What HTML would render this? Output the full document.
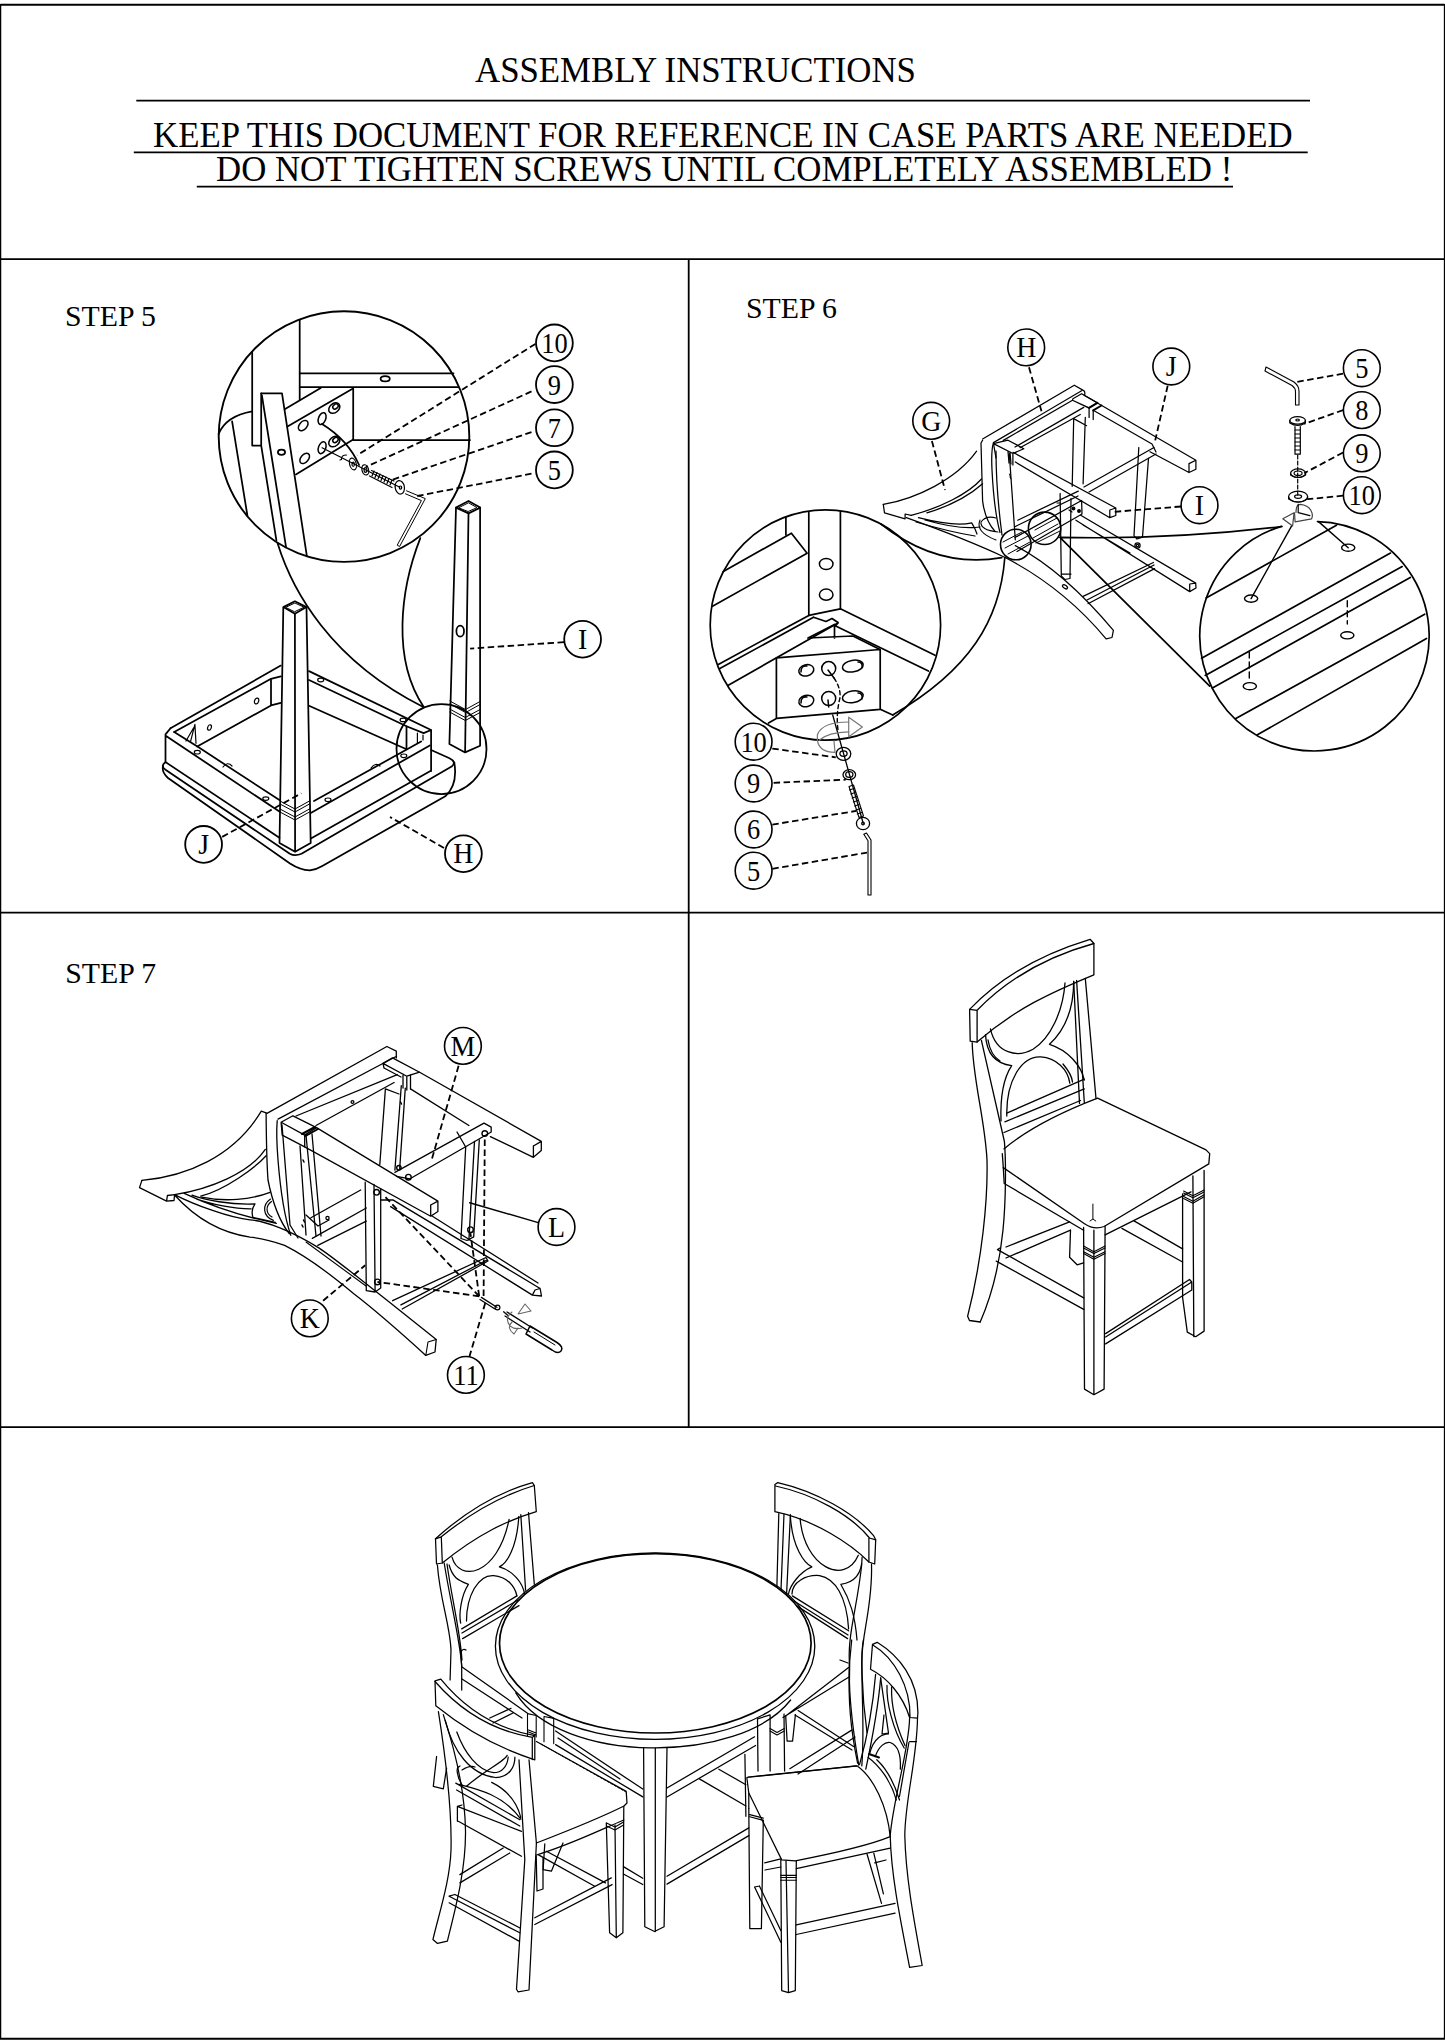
<!DOCTYPE html>
<html><head><meta charset="utf-8"><style>
html,body{margin:0;padding:0;background:#fff;width:1445px;height:2044px;overflow:hidden}
svg{position:absolute;left:0;top:0}
</style></head><body>
<svg width="1445" height="2044" viewBox="0 0 1445 2044" xmlns="http://www.w3.org/2000/svg">
<g id="frame" stroke="#000" fill="none">
<path d="M0.5 4.7H1444.5M0 2038.7H1445" stroke-width="2"/><path d="M0.6 4V2039M1444.5 4V2039" stroke-width="1.3"/>
<path d="M0 259.2H1445M0 912.6H1445M0 1427.1H1445M688.7 259V1427" stroke-width="1.8"/>
<path d="M136.3 100.7H1310M133.8 152.3H1307.7M196.8 186.6H1233" stroke-width="1.7"/>
</g>
<g font-family="Liberation Serif" fill="#000">
<text x="475" y="82" font-size="34.8">ASSEMBLY INSTRUCTIONS</text>
<text x="153" y="146.7" font-size="34.8">KEEP THIS DOCUMENT FOR REFERENCE IN CASE PARTS ARE NEEDED</text>
<text x="216" y="181.3" font-size="34.8">DO NOT TIGHTEN SCREWS UNTIL COMPLETELY ASSEMBLED !</text>
<text x="65" y="325.7" font-size="29.8">STEP 5</text>
<text x="746" y="317.8" font-size="29.8">STEP 6</text>
<text x="65.3" y="982.6" font-size="29.8">STEP 7</text>
</g>
<!--DRAWINGS-->
<g id="step5" stroke="#000" fill="none" stroke-width="1.75" stroke-linejoin="round" stroke-linecap="round">
<!-- magnifier big circle -->
<circle cx="344" cy="436.6" r="125.3" stroke-width="1.9"/>
<!-- cone lines -->
<path d="M277.5 543 C292 590 330 660 422.8 706.7"/>
<path d="M420.3 538.1 C400 590 392 660 423.6 706.7"/>
<circle cx="441.5" cy="749" r="45"/>
<!-- inside big circle -->
<path d="M218.6 434 Q226 416 252.2 411.4"/>
<path d="M232.1 421.4 L247.4 515.5"/>
<path d="M252.2 352.6 V445.6 H261"/>
<path d="M299.7 320.5 V399.7"/>
<path d="M299.7 373.3 H453.5 M299.7 387.2 H458.5"/>
<ellipse cx="385.2" cy="378.8" rx="4.6" ry="2.7"/>
<path d="M353.2 388.6 V440 H470"/>
<path d="M284.7 409.3 L320.7 387.9 M287.5 426.6 L353 388.6 M295.9 474.4 L353.2 439.5"/>
<!-- plank -->
<path d="M261.2 393.4 H282 L306.9 556.3"/>
<path d="M261.9 395.5 L286.1 547.3"/>
<path d="M261.2 393.4 V445.6 L276.4 540.4"/>
<ellipse cx="281.5" cy="452.2" rx="3.6" ry="2.6"/>
<!-- holes in block -->
<g stroke-width="1.5">
<ellipse cx="303.2" cy="425.6" rx="3.8" ry="6" transform="rotate(40 303.2 425.6)"/>
<ellipse cx="322.1" cy="418.6" rx="3.6" ry="6.2" transform="rotate(20 322.1 418.6)"/>
<ellipse cx="334.3" cy="408.1" rx="4.5" ry="6.2" transform="rotate(50 334.3 408.1)"/>
<ellipse cx="335.5" cy="406.5" rx="2.2" ry="3" transform="rotate(50 335.5 406.5)"/>
<ellipse cx="304.7" cy="458.4" rx="3.8" ry="6" transform="rotate(40 304.7 458.4)"/>
<ellipse cx="322.1" cy="447.7" rx="3.6" ry="6.2" transform="rotate(20 322.1 447.7)"/>
<ellipse cx="334.3" cy="441.6" rx="4.5" ry="6.2" transform="rotate(50 334.3 441.6)"/>
<ellipse cx="335.5" cy="440" rx="2.2" ry="3" transform="rotate(50 335.5 440)"/>
</g>
<path d="M322 424 Q348 440 359.1 465"/>
<path d="M322.1 447.7 L399.8 487.3" stroke-width="1.2"/>
<!-- hardware -->
<g stroke-width="1.2">
<path d="M346.5 455 Q341 455 341.5 459.5 L340 460"/>
<ellipse cx="352.9" cy="464" rx="3.3" ry="6" transform="rotate(-15 352.9 464)"/>
<ellipse cx="353.2" cy="464.3" rx="1.2" ry="2.2"/>
<ellipse cx="365.3" cy="469.9" rx="3.3" ry="5.2" transform="rotate(-15 365.3 469.9)"/>
<ellipse cx="365.5" cy="470" rx="1.4" ry="2.4"/>
<path d="M371.5 470.5 L394 481 M369.5 476 L392 487.5"/>
<path d="M374 471 l-2 5 M377 472.5 l-2 5 M380 474 l-2 5 M383 475.5 l-2 5 M386 477 l-2 5 M389 478.5 l-2 5 M392 480 l-2 5"/>
<ellipse cx="399.8" cy="487.3" rx="4.6" ry="6.8" transform="rotate(-10 399.8 487.3)"/>
<ellipse cx="400.5" cy="487.6" rx="1.2" ry="1.6"/>
<path d="M406.5 490.8 L425.3 498.6 L399.6 546.5 L397.2 545.2 L421.4 500.6 L405.5 493.8" stroke-width="1"/>
</g>
<!-- legs -->
<g>
<path d="M456 507.6 L468.5 500.9 L480.2 507.6 L468.5 513.4 Z"/>
<path d="M459 507.6 L468.5 502.8 L477 507.6 L468.5 511.4 Z" stroke-width="1"/>
<path d="M456 507.6 L449.4 744.1 L465.1 752.4 L480.1 745.8 V507.6 M468.5 513.4 L465.1 752.4"/>
<path d="M449.8 701 L465.5 709.5 L480.1 701.5 M449.9 704 L465.6 712.5 L480.1 704.5 M449.6 709 L465.3 717.5 L480.1 709.5 M449.6 712 L465.3 720.5 L480.1 712.5" stroke-width="1"/>
<ellipse cx="460.2" cy="631.2" rx="3.8" ry="5.5"/>
<path d="M283.3 607.1 L294.9 601.3 L306.5 607.1 L294.9 613.7 Z"/>
<path d="M286 607.2 L294.9 603 L304 607.2 L294.9 611.6 Z" stroke-width="1"/>
<path d="M283.3 607.9 L279.5 843 L295.1 851.8 L310.7 843 L306.5 607.9 M294.9 613.7 L295.1 851.8"/>
<path d="M280 801 L295 809 L309.5 801 M280 804 L295 812 L309.5 804 M280 809 L295 817 L309.5 809 M280 812 L295 820 L309.5 812" stroke-width="1"/>
</g>
<!-- table frame -->
<path d="M170.5 728.3 L280.8 665.6 M174.2 732 L271 678.8 L280.8 676.3 M197.2 746.6 L271 705.4 V678.8 M271 705.4 L280.8 702.9"/>
<path d="M170.5 728.3 L165.5 734.4 V762.1 L279.4 837.8 M166.1 736.1 L279.4 811.5 M198.2 747.1 L279.4 800 M174.2 732 L198.2 747.1"/>
<path d="M190.4 742.1 L194.9 724.4 L196 743.3 M186 741 L193.5 728" stroke-width="1.2"/>
<path d="M165.5 762.2 Q160 766 165.5 769.8 L289.8 853.7 Q295 856.5 301.5 853.7 L451.6 766.6 Q457 762 449.5 758.3 L431.1 750"/>
<path d="M163 766 Q161.5 772 168 778 L290 863.5 Q300 870 309.8 870.3 Q316 870 322.3 866.1 L445.3 796.3 Q458 785 454.3 762.4"/>
<path d="M309 671.1 L431.1 730 V771.1 M309 680 L406.5 726.2 L423.6 733.1 L431.1 730 M309 705.7 L406.5 749.3 V726.2"/>
<path d="M314 801 L421.1 741.5 M311.2 812.8 L429.8 745.5 M310.9 838.4 L430.4 771.1"/>
<path d="M417.4 733 V743 M423 735 V740" stroke-width="1.2"/>
<g stroke-width="1.2">
<ellipse cx="197.3" cy="752.2" rx="3" ry="1.8"/><ellipse cx="265.8" cy="798.6" rx="3" ry="1.8"/>
<ellipse cx="209.5" cy="727.5" rx="1.8" ry="2.8" transform="rotate(20 209.5 727.5)"/><ellipse cx="256.6" cy="701" rx="2" ry="3" transform="rotate(20 256.6 701)"/>
<path d="M223 767 Q227.5 761 232 766"/><ellipse cx="320.7" cy="680" rx="3" ry="1.8"/><ellipse cx="328" cy="799.8" rx="3" ry="1.8"/>
<ellipse cx="403.8" cy="755.8" rx="3" ry="1.8"/><path d="M371 768 Q375.5 762 380 766"/>
<ellipse cx="403.1" cy="719.9" rx="3" ry="1.8"/>
</g>
<!-- callouts -->
<g stroke-width="1.8">
<circle cx="554.4" cy="342.9" r="18.4"/><circle cx="554.4" cy="384.6" r="18.4"/><circle cx="554.4" cy="427.8" r="18.4"/><circle cx="554.4" cy="469.9" r="18.4"/>
<circle cx="582.6" cy="639.2" r="18.4"/><circle cx="203.6" cy="844.4" r="18.4"/><circle cx="463.4" cy="853.7" r="18.4"/>
</g>
<g stroke-dasharray="6.5 3.5" stroke-width="1.8" stroke-linecap="butt">
<path d="M535.4 343.9 L357.1 455.3 M531.5 391.4 L365.8 467 M531.5 432.1 L390.1 480.5 M531.5 473.7 L417.2 496"/>
<path d="M564 642.1 L470.1 648.6 M222.2 836.9 L301.3 793.3 M444 848 L390 817"/>
</g>
</g>
<g font-family="Liberation Serif" font-size="30" text-anchor="middle" fill="#000">
<text transform="translate(554.4 352.8) scale(0.88 1)">10</text><text transform="translate(554.4 394.5) scale(0.88 1)">9</text><text transform="translate(554.4 437.7) scale(0.88 1)">7</text><text transform="translate(554.4 479.8) scale(0.88 1)">5</text><text transform="translate(582.6 648.8) scale(0.93 1)">I</text><text transform="translate(203.6 854.4) scale(0.93 1)">J</text><text transform="translate(463.4 863.3) scale(0.93 1)">H</text>
</g>

<g id="step6" stroke="#000" fill="none" stroke-width="1.3" stroke-linejoin="round" stroke-linecap="round">
<!-- left magnifier -->
<g stroke-width="1.7">
<circle cx="825.4" cy="625" r="115.2"/>
<path d="M808.8 512.5 V615.4 M840.4 511.6 V608.8"/>
<path d="M785.9 517.5 V534.9"/>
<path d="M723.3 571.4 L791.4 533.2 L807.1 553.2 M712.5 606.3 L807.1 553.2"/>
<path d="M718.3 664.4 L808.8 615.4 M719.8 668.5 L813.5 617.3 M728.3 685.2 L837.9 622.9 M808.8 615.4 L840.4 608.8 L935 655.3 M836.2 626.2 L928.4 671.1"/>
<path d="M813.5 617.3 L826 621.5 L832 618.5 L838 622.5 L835.5 626"/>
<path d="M808 638 L834.5 624.5 M808 638 L853 636 L880 649.5 M834.5 626 V638"/>
<path d="M776.4 657.8 L880.2 649.5 V709.3 L776.4 718.4 Z M768.5 723 L776.4 718.4 M880.2 709.3 L892.7 715.1"/>
</g>
<g stroke-width="1.5">
<ellipse cx="826.2" cy="564" rx="6.8" ry="5.6"/><ellipse cx="826.2" cy="594.7" rx="6.8" ry="5.6"/>
<ellipse cx="806.3" cy="670.3" rx="7.6" ry="5.6" transform="rotate(-15 806.3 670.3)"/><path d="M801 672 Q801 665 807 666"/>
<circle cx="828.7" cy="668.6" r="7"/><path d="M828 670 L834 678"/>
<ellipse cx="852.8" cy="666.1" rx="10.5" ry="5.8" transform="rotate(-10 852.8 666.1)"/><path d="M858 662 Q863 662 862 668"/>
<ellipse cx="806.3" cy="701" rx="7.6" ry="5.6" transform="rotate(-15 806.3 701)"/><path d="M801 703 Q801 696 807 697"/>
<circle cx="828.7" cy="698.5" r="7"/><path d="M828 700 L828.7 707"/>
<ellipse cx="852.8" cy="696.8" rx="10.5" ry="5.8" transform="rotate(-10 852.8 696.8)"/><path d="M858 693 Q863 693 862 699"/>
</g>
<path d="M834 678 Q842 690 839.5 700 Q836 715 838 730" stroke-dasharray="4 3" stroke-width="1.4"/>
<path d="M832.7 715 L863.2 823.3" stroke-width="1.3"/>
<g stroke="#777" stroke-width="1.2">
<path d="M848.7 717.2 L862.4 727 L848.7 736.8 Z"/>
<path d="M848.7 722 Q822 722 817.4 734.8 V740.7 Q819.4 752.4 835 752.4 L834 741 M848.7 731.9 Q828 732.5 819.4 740"/>
</g>
<!-- hardware step6 left -->
<g stroke-width="1.3">
<ellipse cx="843.5" cy="753.8" rx="7.3" ry="6.5"/><ellipse cx="843.5" cy="753.6" rx="3.6" ry="2.8"/>
<ellipse cx="849.3" cy="774.7" rx="6.3" ry="5"/><ellipse cx="849.3" cy="774.5" rx="3.6" ry="2.9"/>
<path d="M849 786.5 L859 817.5 L863.5 816 L853.5 785 Z" stroke-width="1.1"/>
<path d="M849.5 790 l4.5 -1.5 M850.8 794 l4.5 -1.5 M852.1 798 l4.5 -1.5 M853.4 802 l4.5 -1.5 M854.7 806 l4.5 -1.5 M856 810 l4.5 -1.5 M857.3 814 l4.5 -1.5" stroke-width="1.1"/>
<ellipse cx="863" cy="823.5" rx="6.6" ry="6.2"/><circle cx="863" cy="823.5" r="1.3"/>
<path d="M863.8 834.3 L868 840.8 V895 H871 V840 L866.5 833 Z" stroke-width="1.1"/>
</g>
<!-- callouts step6 left -->
<g stroke-width="1.6">
<circle cx="753.6" cy="741.7" r="18.4"/><circle cx="753.6" cy="783.5" r="18.4"/><circle cx="753.6" cy="829.5" r="18.4"/><circle cx="753.6" cy="870.7" r="18.4"/>
<circle cx="931.2" cy="420.8" r="18.4"/><circle cx="1026.2" cy="347.4" r="18.4"/><circle cx="1171.3" cy="366.5" r="18.4"/><circle cx="1199.5" cy="505.2" r="18.4"/>
<circle cx="1361.8" cy="368.2" r="18.4"/><circle cx="1361.8" cy="410.1" r="18.4"/><circle cx="1361.8" cy="453.3" r="18.4"/><circle cx="1361.8" cy="495.2" r="18.4"/>
</g>
<g stroke-dasharray="6.5 3.5" stroke-width="1.8" stroke-linecap="butt">
<path d="M772.3 748.6 L835.8 757.3 M773.6 782.8 L845.8 779.7 M772.3 824.6 L856.4 810.9 M772.3 868.8 L867 852.6"/>
<path d="M931.9 440.9 L945 490 M1029 367.3 L1041.5 411.3 M1167.7 385.6 L1155.2 440.4 M1181 506.5 L1112 512"/>
<path d="M1343.1 373.7 L1293.8 382.4 M1343.1 410.1 L1304.2 423.9 M1343.1 452.5 L1304.2 473.2 M1343.1 495.7 L1307.6 499.2"/>
</g>
<!-- right magnifier -->
<g stroke-width="1.7">
<path d="M1317.5 521.6 A114.7 114.7 0 1 1 1281.5 526.4"/>
<path d="M1206.1 598.1 L1336.5 525.2 M1201.6 658.3 L1390.5 553.1 M1205.2 675.4 L1402.2 566.6 M1212.4 688 L1410.3 577.4 M1235.8 718.6 L1424.7 614.2 M1257.4 734.8 L1426.5 638.5"/>
<path d="M1291.5 526.1 L1251.1 598.6 M1318.5 521.6 L1348.2 547.7" stroke-width="1.4"/>
<path d="M1347.3 600.8 V624.1 M1249.3 652 V680" stroke-dasharray="6 4" stroke-width="1.4"/>
<path d="M1059.9 537.3 Q1170 540 1282 526.5 M1059.9 537.3 L1209.7 686.2"/>
</g>
<g stroke-width="1.4">
<ellipse cx="1251.1" cy="598.6" rx="6.6" ry="3.6"/><ellipse cx="1348.2" cy="547.7" rx="6.6" ry="3.6"/><ellipse cx="1347.3" cy="635.3" rx="6.6" ry="3.6"/><ellipse cx="1249.8" cy="686.2" rx="6.6" ry="3.6"/>
</g>
<!-- hardware step6 right -->
<g stroke-width="1.2">
<path d="M1266 367 L1294 382 Q1299 386 1299 391 V405 H1295.5 V391.5 Q1295.5 388 1292 385.5 L1265 371 Z" stroke-width="1.1"/>
<ellipse cx="1297.6" cy="420.4" rx="7.8" ry="3.8"/><path d="M1289.8 420.4 V423 Q1297.6 428 1305.4 423 V420.4"/><ellipse cx="1297.6" cy="420" rx="1.8" ry="1"/>
<path d="M1295 426.5 V454.2 H1300.3 V426.5"/>
<path d="M1295 430 h5.3 M1295 434 h5.3 M1295 438 h5.3 M1295 442 h5.3 M1295 446 h5.3 M1295 450 h5.3"/>
<path d="M1297.7 455 V495" stroke-dasharray="4 2"/>
<ellipse cx="1298.1" cy="473.2" rx="7.5" ry="4.3"/><ellipse cx="1298.1" cy="473.2" rx="4" ry="2.2"/><path d="M1290.6 473.2 V475 Q1298 480 1305.6 475 V473.2"/>
<ellipse cx="1298.1" cy="496.6" rx="9.5" ry="5.5"/><ellipse cx="1298.1" cy="496.6" rx="3.5" ry="1.8"/><path d="M1288.6 496.6 V499 Q1298 505 1307.6 499 V496.6"/>
</g>
<g stroke="#444" stroke-width="1.2">
<path d="M1282.8 518.8 L1294.1 512.7 L1292.6 526 Z"/>
<path d="M1296 512.5 Q1296 504.5 1300.2 504.4 C1311.6 505.5 1313.6 514.7 1311.6 518.8 L1295.1 521.9 L1294.5 513"/>
<path d="M1298.2 504.4 V512.7 L1309.9 515.7" stroke="#000"/>
</g>
<!-- chair upside down -->
<g stroke-width="1.25">
<!-- crest G -->
<path d="M883.3 504.4 C915 499 956 480 976.6 451.2"/>
<path d="M883.3 504.4 L884.5 512.9 L905.1 518.9 L905.1 514 L911.2 515.3"/>
<path d="M911.2 515.3 C940 508 968 494 981.5 479 M926.9 512.9 C950 506 970 495 982.6 483.8"/>
<path d="M906.3 517.7 Q966.9 539.5 1005.6 557.7 Q1063.8 588 1106.1 638.8 L1112 637.5 L1113.4 630.4 Q1063.8 571 1015.3 545.6"/>
<path d="M918.4 517.7 Q955 527 971.7 522.8 Q975 528 977 534 M916 522 Q950 532 975 536 M925 520 Q960 530 980 527"/>
<path d="M998 532 Q980 530 981 522 Q986 515 996 518 M996 540 Q975 532 980 520" stroke-width="1.1"/>
<!-- back stiles -->
<path d="M982.6 440.2 L981 443 L982.6 500.8 Q985 520 994.7 531 M993.5 442.6 Q991 450 992 470 Q994 510 1000 532.5 M996 451 Q996 490 1002 535 M1009.3 453.5 L1015.3 539.8"/>
<path d="M1009.5 474 l1 3 M1010 477 l1 2" stroke-width="1"/>
<!-- frame -->
<path d="M982.6 439 L1074.3 385.2 L1083.7 390.6 Q1085.5 392 1084.5 395.4 M993.5 442.6 L1081.6 390.8 M1003.3 440.4 L1072.5 400.3 M1015 447 L1083.7 407.4 M1020 447.7 L1080.3 414.5"/>
<path d="M993.5 443.6 L1008 440.2 L1023.8 448.7 L1012.9 453.5 Z M993.5 443.6 L996 458 M1012.9 453.5 V465 M1010 452 L1011 464 M1008 451.5 L1009 463"/>
<path d="M1072.5 400.3 L1072.9 398.7 L1081.6 393.7 L1097.4 402.8 L1089.1 407.8 Z M1072.5 400.3 L1089.1 408.2 V417.4 M1093.2 410.3 V419.5"/>
<path d="M1089.1 407.8 L1097.4 402.8 M1093.2 410.3 L1101.5 405.5" stroke-width="2"/>
<path d="M1084.1 395.2 L1195.9 460.3 V469.2 L1189 472.5 L1150 451.7 M1093.2 410.3 L1152 444 L1156 452 M1189 463.6 L1195.9 460.3 M1189 463.6 V472.5"/>
<path d="M1012.9 452.3 L1115.8 508 V515.5 L1109.8 517.7 L1015.3 462 M1109.8 510 L1115.8 508 M1109.8 510 V517.7"/>
<path d="M1084 487 L1154 447.5 M1089 492 L1156 454"/>
<!-- legs -->
<path d="M1073.7 418.6 L1072.2 486.3 M1085.3 417.4 L1083.1 483.8 M1073.7 418.6 L1086.6 425.7"/>
<path d="M1138.8 447.5 L1134 535.9 L1137 539 L1142.5 537.1 L1148.5 458.4"/>
<path d="M1060.1 493.5 L1061.3 575.9 L1064.8 579.5 L1070 578.5 L1071 498.4 M1061.3 574 H1071"/>
<!-- seat underside board -->
<path d="M1017.7 520.2 L1078.3 491.1 M1015.3 526.5 L1078 496 M1015 537.5 L1081.6 500.5 L1082 514 L1017 551.5"/>
<path d="M1057 503 l3 0 M1069 510 l3 2" stroke-width="1.2"/>
<circle cx="1073.5" cy="508.5" r="1.3" fill="#000"/><circle cx="1079" cy="511" r="1.3" fill="#000"/>
<!-- right back leg -->
<path d="M1080.7 515.3 L1195.7 583.1 L1196 588 L1189.7 591.6 L1075.9 520.2 M1083 525 L1130 553 M1189.7 584 L1195.7 583.1 M1189.7 584 V591.6"/>
<path d="M1083.1 596.4 L1153.4 562.5 M1088 603.7 L1154.6 568.6 M1087 600 L1154 565"/>
<ellipse cx="1065" cy="586.8" rx="2.8" ry="1.6" transform="rotate(35 1065 586.8)"/>
<circle cx="1137.5" cy="545.5" r="2.6"/><circle cx="1137.5" cy="545.5" r="1.2"/>
</g>
<!-- small magnifier circles and cone -->
<g stroke-width="1.6">
<circle cx="1015.8" cy="544.5" r="15.3"/>
<circle cx="1044.6" cy="528.3" r="16.2"/>
<path d="M881 524 C920 555 960 565 1001.8 557.6"/>
<path d="M1004.8 557.6 C1000 620 970 670 892.7 715"/>

</g>
<path d="M1005 548 L1028 536 M1008 554 L1030 542 M1003 542 L1022 532 M1035 530 L1057 518 M1033 538 L1058 524 M1036 543 L1060 531" stroke-width="1"/>
</g>
<g font-family="Liberation Serif" font-size="30" text-anchor="middle" fill="#000">
<text transform="translate(753.6 751.6) scale(0.88 1)">10</text><text transform="translate(753.6 793.4) scale(0.88 1)">9</text><text transform="translate(753.6 839.4) scale(0.88 1)">6</text><text transform="translate(753.6 880.6) scale(0.88 1)">5</text><text transform="translate(931.2 430.7) scale(0.93 1)">G</text><text transform="translate(1026.2 357.3) scale(0.93 1)">H</text><text transform="translate(1171.3 376.4) scale(0.93 1)">J</text><text transform="translate(1199.5 515.1) scale(0.93 1)">I</text><text transform="translate(1361.8 378.1) scale(0.88 1)">5</text><text transform="translate(1361.8 420.0) scale(0.88 1)">8</text><text transform="translate(1361.8 463.2) scale(0.88 1)">9</text><text transform="translate(1361.8 505.1) scale(0.88 1)">10</text>
</g>

<g id="step7" stroke="#000" fill="none" stroke-width="1.3" stroke-linejoin="round" stroke-linecap="round">
<!-- crest -->
<path d="M141.9 1180.4 C185.7 1176.4 233.5 1157.3 261.3 1111.2 L266.1 1112.8"/>
<path d="M141.9 1180.4 L139.5 1187.6 L166.6 1201.1 L167.4 1195.5 L174.6 1194.7 M166.6 1201.1 L174 1200.5 L174.6 1194.7"/>
<path d="M174.6 1194.7 C209.6 1189.2 249.4 1173.2 265.3 1149.4 M200.7 1196.2 C225 1190 255 1168 266.1 1155.7"/>
<path d="M175 1194.8 C195 1205 230 1218 250 1219.8 C265 1221 290 1230 319.2 1248.1 C340 1262 370 1287 436.2 1339.5 L435 1352 L425.8 1355.4 C400 1332 375 1310 353.8 1293.8 C335 1278 310 1258 284.6 1245.4 C270 1240 260 1238 250 1237.1 C215 1232 190 1212 175 1195.5"/>
<path d="M306 1242 L366 1286 M425.8 1355.4 L428 1342 L436.2 1339.5" stroke-width="1.1"/>
<path d="M184.2 1193.3 C205 1203 235 1215 276.3 1223.3 M192 1195.2 C205 1200 230 1205 255 1203.9 C252 1208 251.5 1213 253 1217.5 L275.3 1222.3 M196.8 1199.1 C210 1204 235 1209 251.1 1208.8"/>
<path d="M270 1192.3 C250 1200 225 1202 201.6 1197.1"/>
<path d="M270.5 1199.1 C262 1205 262.5 1216 273.4 1220.4 M271.5 1201.5 C265 1206 266 1214 272 1217" stroke-width="1.2"/>
<!-- back stile -->
<path d="M266.1 1112.8 Q266.5 1160 268 1180 Q275 1215 289.2 1233.7 M277.2 1120.7 Q276 1135 278 1160 Q282 1210 290.8 1235.3 M282 1125 L290 1225 L298 1238 M300 1146 L306 1235 M305.9 1134.3 L316 1236 M312 1134 L321 1236"/>
<path d="M303 1160 l1 2 M303.5 1220 l1 2" stroke-width="1.5"/>
<!-- frame H rail -->
<path d="M267 1113.4 L386.9 1046.5 L396.3 1051.1 V1057.9 M278 1119.1 L396.5 1056.3 M296 1116 L397.3 1074.6 M316 1125.5 L394.1 1082.5"/>
<circle cx="352.5" cy="1102" r="1.4"/>
<path d="M281.1 1122.3 L292.9 1115.8 L316.5 1127.6 L304.7 1135.1 Z M281.1 1122.3 L282.2 1135.1 L304.7 1146.9 V1135.1"/><path d="M302 1134 L315 1127 M305.5 1136 L318 1129" stroke-width="2"/>
<!-- corner block right -->
<path d="M383 1063.4 L392.5 1057.9 L419.6 1072.2 L406.8 1076.2 Z M383 1063.4 L384 1068 L401 1077 M406.8 1076.2 V1090 M410.5 1075 V1089 M403 1074 V1088"/>
<!-- J rail -->
<path d="M419.6 1072.2 L541.3 1141.4 V1150.5 L533.4 1157.3 L490.4 1136.6 M410.5 1088.9 L468.9 1125.5 M533.4 1146 L541.3 1141.4 M533.4 1146 V1157.3"/>
<!-- legs near J -->
<path d="M385.4 1088.9 L379.8 1164.5 M401.3 1085.7 L394.9 1170.1 M405.3 1088.1 L399.7 1168.5 M385.4 1088.9 L399 1094"/>
<path d="M400.5 1102 l1 2" stroke-width="1.5"/>
<!-- M side rail -->
<path d="M394.9 1172.4 L484 1123.1 L491.2 1127.1 V1132 L410 1178.8 M396.5 1176.4 L410 1178.8"/>
<!-- leg L -->
<path d="M465.7 1147 L461 1238.5 L467 1240.5 L473.7 1236.9 L479.3 1139.8 M474.5 1141.4 L468.9 1240.1 M457 1132 L465.7 1147"/>
<!-- front rail I -->
<path d="M316.5 1127.6 L437.9 1201.1 V1211.5 L430.7 1216.2 L304.7 1146.9 M430.7 1205 L437.9 1201.1 M430.7 1205 V1216.2"/>
<!-- center leg K -->
<path d="M365.2 1182.2 L366.3 1290.7 L375.1 1292 L380.7 1288 V1188.9 M374 1184.4 L375.1 1290.7"/>
<!-- seat underside board -->
<path d="M310.9 1217.7 L360.7 1190 M312.3 1238.4 L366.3 1208 M317.8 1245.4 L366.3 1221.1 M306 1215 L318 1226 L329 1220"/>
<circle cx="327.5" cy="1218" r="1.6"/><path d="M302 1225 l1 2" stroke-width="1.5"/>
<!-- right back leg -->
<path d="M380.6 1200 L392.9 1199.9 L540.1 1288.5 L541.5 1296 L532.4 1295.1 L390.6 1206.6 M432 1216 L538 1283 M532.4 1295.1 L535 1290 L540.1 1288.5"/>
<!-- cross stretcher -->
<path d="M392.6 1300.7 L486 1257.5 L488 1261 L402.2 1309 M400.9 1304.9 L487 1260"/>
<!-- screw holes -->
<g stroke-width="1.4">
<circle cx="484.8" cy="1133.5" r="2.8"/><circle cx="408.4" cy="1177.2" r="2.8"/><circle cx="398.9" cy="1167.7" r="2.2"/><circle cx="376.6" cy="1192.3" r="2.8"/><circle cx="470.5" cy="1229.7" r="2.8"/><circle cx="377.4" cy="1281.9" r="2.8"/>
</g>
<!-- dashed -->
<g stroke-dasharray="6.5 3.5" stroke-width="1.8" stroke-linecap="butt">
<path d="M479.2 1296.3 L377.4 1281.9 M479.2 1296.3 L384 1195.5 M479.2 1296.3 L470.4 1233.1 M483.6 1296 L484.8 1135"/>
<path d="M458.6 1065.8 L431.5 1160.5 M323.1 1300.7 L365.2 1265.3 M469.3 1357.1 L485.9 1300.7"/>
</g>
<path d="M469.7 1202.7 L538.2 1222.6" stroke-width="1.5"/>
<!-- screw + screwdriver -->
<path d="M481.4 1297.4 L496.9 1307.3 M480 1299.5 L495 1309" stroke-width="1.3"/>
<circle cx="497.5" cy="1307.5" r="2.4" stroke-width="1.2"/>
<path d="M503.6 1311.8 L508 1315.5 M507 1312 L532.4 1328 M505 1316 L530 1332" stroke-width="1.3"/>
<path d="M530 1326 L557 1342.5 Q564 1347 561 1351 Q558 1354.5 552 1350 L526 1334 Z" stroke-width="1.5"/>
<path d="M534 1332 L555 1345" stroke-width="1"/>
<g stroke="#666" stroke-width="1.1">
<path d="M512 1312 Q504 1318 510 1326 Q515 1330 522 1328 M512 1322 Q506 1328 514 1334 L518 1328"/>
<path d="M525 1304 L531 1311 L518 1314 Z"/>
</g>
<!-- callouts -->
<g stroke-width="1.6">
<circle cx="462.9" cy="1045.9" r="18.4"/><circle cx="556.5" cy="1227" r="18.4"/><circle cx="309.8" cy="1318.4" r="18.4"/><circle cx="465.9" cy="1374.9" r="18.4"/>
</g>
</g>
<g font-family="Liberation Serif" font-size="30" text-anchor="middle" fill="#000">
<text transform="translate(462.9 1055.8) scale(0.93 1)">M</text><text transform="translate(556.5 1236.9) scale(0.93 1)">L</text><text transform="translate(309.8 1328.3) scale(0.93 1)">K</text><text transform="translate(465.9 1384.8) scale(0.88 1)">11</text>
</g>

<g id="chairR" stroke="#000" fill="none" stroke-width="1.3" stroke-linejoin="round" stroke-linecap="round">
<path d="M969.6 1009.4 C1006.1 971.1 1052.8 950.6 1090.1 939.3 L1093.9 943.5 V974.8 C1052.8 991.7 1015.4 1008.5 977.1 1042.1 L970.2 1041.2 Z"/>
<path d="M977.1 1010.3 C1011.7 974.8 1054.6 954.3 1093.9 943.5 M969.6 1009.4 L977.1 1010.3 V1042.1"/>
<path d="M972.2 1042.7 C973 1080 985 1120 987 1160 C988 1200 982 1260 967.6 1316.3 L969.5 1320.5 L980.2 1322"/>
<path d="M981.4 1040.4 L1004.4 1141.5 C1006 1160 1006 1200 1003 1230 C1000 1260 992 1295 980.2 1322"/>
<path d="M1073.7 981.3 L1079.5 1103.4 M1076.6 980.4 L1084.3 1102.4 M1085.3 978.4 L1096 1098.6"/>
<path d="M990.4 1028.8 C996.2 1054 1017.5 1057.9 1033 1049.2 C1050.4 1038.5 1063 1011.4 1065 983"/>
<path d="M1073.7 981.3 C1073.7 1011.4 1064 1030.8 1049.5 1044.3 C1067.9 1050.1 1081.4 1065.6 1084.3 1080.2"/>
<path d="M985.5 1034.6 C986.5 1054 996.2 1063.7 1011.7 1065.6 C1003.9 1077.3 1000.1 1094.7 1001 1120.9"/>
<path d="M1006.8 1116 C1005.9 1081.1 1021.4 1055.9 1040.8 1056.9 C1056.3 1057.9 1067.9 1069.5 1069.8 1083.1"/>
<path d="M1063 1064 C1068 1070 1072 1076 1072.5 1082"/>
<path d="M988 1040 C990 1052 995 1058 1000 1061"/>
<path d="M1006.8 1113.1 L1084.3 1079.2 M1004.9 1121.8 L1084.3 1088.9 M1004 1132.5 L1080.5 1100.5"/>
<path d="M1003.9 1148.9 C1027.2 1129.6 1056.3 1114.1 1097.6 1098.2 L1206 1149.9 L1209.7 1153.6 L1208.8 1163.9 L1104.1 1226.5 Q1093.9 1230.2 1084.5 1223.7 L1003.3 1167.6 L1002.3 1153.6"/>
<path d="M1003.3 1167.6 L1004.2 1183.5 L1083.6 1230.2 M1105.1 1234.9 L1191 1191.9"/>
<path d="M1083.6 1227.4 L1084.5 1389.1 L1093.9 1394.7 L1104.1 1389.1 L1105.1 1226.5 M1093.9 1230.2 V1394.7"/>
<path d="M1083.6 1246.1 L1093.9 1251.7 L1105.1 1246.1 M1083.6 1248 L1093.9 1253.6 L1105.1 1248 M1083.6 1251.7 L1093.9 1257.3 L1105.1 1251.7 M1083.6 1253.6 L1093.9 1259.2 L1105.1 1253.6" stroke-width="1.1"/>
<path d="M1182.6 1193.8 V1297.5 L1187.3 1332.1 L1195.7 1336.7 L1204.1 1331.1 V1170.4 M1192.9 1176 L1193.8 1336.7"/>
<path d="M1183.6 1191 L1192.9 1195.7 L1204.1 1190.1 M1183.6 1193 L1192.9 1197.7 L1204.1 1192 M1183.6 1196.6 L1192.9 1201.3 L1204.1 1194.7 M1183.6 1198.5 L1192.9 1203.2 L1204.1 1196.7" stroke-width="1.1"/>

<path d="M1070.5 1230.2 L1069.6 1257.3 L1077.1 1264.8 L1083.6 1262.9"/>
<path d="M997.5 1249.6 L1083.7 1297.9 M996.3 1261.1 L1083.7 1309.4 M997.5 1249.6 L1000 1248"/>
<path d="M1006 1247 L1069.6 1221.8 M1006 1258 L1070.5 1230.2"/>
<path d="M1121.9 1228.4 L1182.6 1262 M1134 1220.9 L1182.6 1248.9"/>
<path d="M1105.6 1333.6 L1189.5 1279.5 L1191.8 1282 V1290 L1105.6 1343.9 M1105.6 1337 L1191.8 1282"/>
<path d="M1092.9 1204.1 V1219 M1090 1221 L1092.9 1219 L1095.8 1221" stroke-width="1"/>
</g>

<g id="diningset" stroke="#000" fill="none" stroke-width="1.25" stroke-linejoin="round" stroke-linecap="round">
<!-- back-left chair -->
<path d="M435.5 1538.8 C468.4 1508.8 501.4 1491.3 532.4 1482.6 L534.3 1485.5 L536.3 1511.7 C507.2 1520.4 478.1 1533.9 442.3 1563 L436.5 1564 Z"/>
<path d="M441.3 1536.8 C472.3 1511.7 505.3 1494.2 534.3 1485.5 M435.5 1538.8 L441.3 1536.8 L442.3 1563"/>
<path d="M437.4 1565 C440 1600 450 1625 451 1650 L450.1 1680 M444.2 1563 C450 1600 460 1640 461.7 1665.7 L461.7 1690 M447 1564 C452 1600 460 1630 462 1660"/>
<path d="M520.8 1514.6 L525.6 1590.1 M528.5 1512.6 L534.3 1584.3"/>
<path d="M452 1557.2 C458.8 1582.4 497.5 1576.6 509.1 1519.4 M518.8 1516.5 C516.9 1547.5 507.2 1563 499.4 1566.9 C513 1570.8 522.7 1582.4 524.6 1594"/>
<path d="M449.1 1565 C452.9 1578.5 458.8 1580.4 468.4 1584.3 C460.7 1595.9 458.8 1615.3 460.7 1623.1"/>
<path d="M466.5 1621.1 C466.5 1595.9 478.1 1574.6 493.6 1575.6 C507.2 1576.6 514.9 1586.3 516.9 1595.9"/>
<path d="M461.7 1628.9 L516.9 1595.9 M462.6 1638.6 L519 1605.6 M462 1633 L518 1600"/>
<path d="M460.7 1650.2 L461.7 1666.7 L527.5 1713.2 M462 1679 L522 1718 M466 1650 Q463 1648 461 1652"/>
<path d="M489.8 1718 L511.1 1708.3 M493 1723 L513 1713"/>
<!-- table -->
<ellipse cx="655.3" cy="1643.35" rx="155.8" ry="89.65" stroke-width="1.7"/>
<ellipse cx="655.1" cy="1646.2" rx="159.7" ry="93.2" stroke-width="1.3"/>
<path d="M515.8 1692.8 C560 1765 740 1765 790.6 1700" stroke-width="1.3"/>
<path d="M643.6 1748 L644.8 1926.7 L654.5 1931.5 L664.1 1926.7 L667 1748 M655.3 1748 V1931.5"/>
<path d="M527.5 1713.6 L536.2 1715.5 V1736.9 M527.5 1713.6 V1736 M544 1716.5 L553.7 1718.4 V1743.6 M544 1716.5 V1741.7 M528.5 1730 L536 1733 M528.5 1732 L536 1735" stroke-width="1.1"/><path d="M536.2 1856 L537 1891 L543 1889 L543 1858"/>
<path d="M555.6 1731 L642.8 1789.1 M555.6 1744.6 L642.8 1796.9 M558 1738 L620 1779" />
<path d="M667 1788 L754.6 1736.8 M667 1797 L755.6 1745.5"/>
<path d="M623.4 1866.6 L642.8 1878.3 M623.4 1874 L642.8 1884.5 M667 1876.3 L748.8 1827.9 M667 1884.1 L748.8 1835.6"/>
<path d="M744.9 1754.3 L745.9 1816.3"/>
<!-- back-right chair -->
<path d="M777.8 1482.6 C815.6 1491.3 854.4 1512.6 873.8 1535.9 L875.7 1539.8 L874.7 1564 L868.9 1562 C850.5 1543.6 815.6 1520.4 774.9 1511.7 L774.9 1484.5 Z"/>
<path d="M775.5 1486 C813 1494 851 1515 869.5 1538 L875.7 1539.8 M868.9 1538 V1562"/>
<path d="M778.8 1513.6 L776.9 1586.3 M790.4 1514.6 L786.6 1594 M784 1514 L781 1590"/>
<path d="M871.5 1563.8 C872.9 1605.4 861.8 1633 861.8 1660.7 C861.8 1702.2 864.6 1729.9 861.8 1765.9"/>
<path d="M861.8 1563.8 C857.6 1605.4 848 1633 849.3 1660.7 C848 1702.2 850.7 1729.9 857.6 1763.1"/>
<path d="M800.1 1518.4 C804 1566.9 844.7 1586.3 858.3 1555.3 M790.4 1516.5 C792.4 1547.5 804 1562.9 811.8 1566.9 C800 1572 790 1585 788.5 1594"/>
<path d="M862.1 1557.2 C862.1 1574.6 854.4 1582.4 840.8 1584.3 C850 1600 855 1615 857 1640"/>
<path d="M792 1594 C792 1582 805.9 1574.6 819.5 1575.6 C835 1578.5 846.6 1595.9 848.6 1628.9"/>
<path d="M792.4 1595.9 L848.6 1630.8 M796.3 1605.6 L847.6 1638.6 M794 1601 L848 1635"/>
<path d="M848.6 1667.6 L785.7 1716.1 M848.6 1677.3 L782.9 1717.5 M840 1660 l8 3" />
<path d="M757.5 1718.8 L758 1771 M770.1 1714.9 V1771 M784 1714 L784.6 1771 M757.5 1718.8 L770.1 1714.9"/>
<path d="M770 1728.5 L777 1732.5 L784.3 1728.5 M770 1731 L777 1735 L784.3 1731" stroke-width="1.1"/><path d="M699.4 1778.9 L745.9 1806 M718.8 1769.2 L745.9 1784.7"/>
<path d="M785.7 1716.1 L787.1 1741 L792.6 1741 L795.4 1714.7"/>
<path d="M798.1 1710.6 L853.5 1746.5 M795 1715 L852 1750"/>
<path d="M789.8 1768.7 L852.1 1729.9 M798 1774 L855 1737"/>
<path d="M748 1777 L856.3 1765.9" stroke-width="1.2"/>
<!-- front-left chair -->
<path d="M440.8 1679.1 C469.9 1714.9 503.2 1729.9 534.8 1735.7 V1759.8 C503.2 1749.8 469.9 1733.2 435.8 1705.7 L435 1680.8 Z"/>
<path d="M435 1681.5 C466 1717 500 1732 532.3 1737.3 L534.8 1735.7 M532.3 1737.3 V1759.5"/>
<path d="M438.4 1711.7 C446 1760 452 1810 451 1850 C450 1880 440 1910 432.9 1939.6 L437.5 1943.4 L447.4 1941.1 C455 1910 466 1870 465.5 1830.8 C465 1790 455 1750 443.3 1714.6"/>
<path d="M436.6 1756.5 L433.3 1786.4 L443.3 1788.9 L446.6 1768.1"/>
<path d="M519 1759.8 L524.8 1859.6 L516.5 1989.3 L518 1991.8 L529 1990 L536.4 1843 L529 1759.8"/>
<path d="M445.2 1720.4 C452.9 1751.4 470.4 1774.6 495.6 1777.5 C509.1 1777.5 514.9 1766.9 514.9 1757.2 M456.8 1732 C464.6 1753.3 478.1 1770.8 493.6 1772.7 C501.4 1772.7 507.2 1766.9 508.2 1757.2"/>
<path d="M460 1766 C455 1768 457.8 1774 458.8 1778.5 L462.6 1786.3 M466.5 1786.3 C483.9 1770.8 505.3 1761.1 507.2 1755.3 M462 1770 Q470 1765 475 1767"/>
<path d="M458.8 1784.3 C474.3 1788.2 503.3 1794 520.8 1819.2 M491.7 1782.4 C507.2 1790.1 516.9 1801.8 520.8 1817.3"/>
<path d="M455.8 1783.1 L519.8 1819.7 M456.6 1790 L519.8 1826"/>
<path d="M457.4 1806.4 L521.5 1831.3 M458.3 1821.3 L521.5 1856.3 M457.4 1806.4 V1821.3 M457.4 1806.4 L462 1805"/>
<path d="M536.4 1741.5 L626.2 1791.4 L627 1803 L624 1806 C600 1818 570 1830 536.4 1843 M536.4 1855 C570 1845 600 1830 623.8 1820"/>
<path d="M606.3 1823 L609.6 1932.8 L616.3 1937.8 L622.9 1932.8 L623.8 1806.4 M615 1825 L616.3 1937.8"/>
<path d="M606.5 1823 L615 1827 L623.5 1822 M606.5 1826 L615 1830 L623.5 1825" stroke-width="1.1"/>
<path d="M544.8 1843.8 L543.1 1869.6 L551.4 1871.2 L563 1843"/>
<path d="M449.1 1896.2 L519.8 1932.8 M449.1 1902.8 L519 1941.1 M449.1 1896.2 L454.9 1894.5 L520 1928"/>
<path d="M534.8 1917.8 L611.3 1877.9 M534.8 1924.5 L612.1 1884.6"/>
<path d="M459.9 1874.6 L503.2 1848 M459.9 1882.9 L509.8 1853"/>
<path d="M538.1 1854.6 L594.7 1886.2 M546.4 1851.3 L605.5 1882.9"/>
<path d="M541 1744 L626 1792" stroke-dasharray="2 2" stroke-width="1"/>
<!-- front-right chair -->
<path d="M746.8 1777.5 L857.3 1765.9 C873.7 1777.5 887.3 1806.6 890.2 1836.6 C873.8 1843.4 835 1853.1 795.3 1860.8 L781.7 1859.9 L748.8 1793 Z"/>
<path d="M796.3 1868.6 L890.2 1848.2 M748.8 1793 V1808.5"/>
<path d="M780.8 1859.9 L781.7 1990.6 L788.5 1992.6 L795.3 1990.6 L796.3 1860.8 M786 1861 L788.5 1992.6"/>
<path d="M780.8 1875.4 H796.3 M780.8 1877.5 H796.3 M780.8 1880.2 H796.3" stroke-width="1.1"/>
<path d="M748.8 1808.5 L749.8 1928.6 L761.4 1928.6 L763.3 1820.1 M748.8 1814.3 L763.3 1818.2 M748.8 1816.5 L763.3 1820.4"/>
<path d="M917.5 1718 C917 1760 905 1800 904.8 1835.6 C905.7 1874.4 912.5 1913.1 922.2 1965.5 L909.6 1967.4 C899 1913.1 891.2 1874.4 890.2 1835.6 C893 1800 909 1750 909.6 1718"/>
<path d="M796.3 1924.8 L895.1 1903.4 M796.3 1934.5 L895.1 1913.1"/>
<path d="M754.6 1887 L780.8 1942.2 M759.4 1886 L780.8 1930.6 M754.6 1887 L759.4 1886"/>
<path d="M867 1854 L881.5 1903.4 M873.8 1853.1 L883.4 1893.8 M874.7 1862.8 L886 1860"/>
<path d="M764.7 1862.8 L780.8 1858.9 M765 1870 L780.8 1867"/>
<path d="M872.5 1644.3 L877.2 1642.3 C898.7 1655.6 918.2 1679.1 917.9 1712.8 L917.5 1718.2 L909.6 1717.5 C902.6 1694.8 887 1677.6 870.5 1669.3 Z M872.5 1644.7 C894.8 1658 910.4 1687 910 1716.7"/>
<path d="M909.6 1741.5 H916.5 M875.6 1674.4 C873 1705 868 1735 859.6 1764.4 M880.7 1677.6 C878 1710 872 1740 865.8 1769.1"/>
<path d="M863.5 1640 C861 1650 861 1690 867 1732.3 M851.7 1640 C849 1660 846 1690 858.8 1765.2"/>
<path d="M887 1685.4 C886.2 1702.6 893.2 1730 904.2 1748 M891.6 1687 C890.9 1706.5 896.3 1726.1 905 1745.6 M880.7 1678.3 L888.5 1733.1 L882 1734 L884 1715"/>
<path d="M869.7 1753.5 C873.6 1737.8 883 1733.9 888.5 1733.9 M875.2 1756.6 C879.1 1745.6 885.4 1741.7 890.1 1742.5 C898.7 1745.6 901 1757.4 900.3 1769.1"/>
<path d="M869 1754 L879 1757.5" stroke-width="2"/>
<path d="M868.2 1757.4 C879.1 1765.2 890.9 1780.8 896.3 1800 M876.8 1759.7 C887 1769.1 894.8 1784.8 899.5 1800 M908.9 1742.5 L899.5 1796.5"/>
</g>

</svg>
</body></html>
